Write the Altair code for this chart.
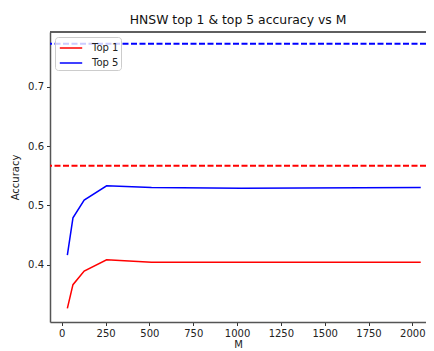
import altair as alt
import pandas as pd

M = [32, 64, 128, 256, 512, 1024, 2048]
top1 = [0.326, 0.366, 0.389, 0.408, 0.404, 0.404, 0.404]
top5 = [0.416, 0.479, 0.509, 0.533, 0.530, 0.529, 0.530]
series = ["Top 1", "Top 5"]
colors = ["#ff0000", "#0000ff"]
ref_values = [0.567, 0.773]
x_ticks = [0, 250, 500, 750, 1000, 1250, 1500, 1750, 2000]
y_ticks = [0.4, 0.5, 0.6, 0.7]

rows = []
for m, a in zip(M, top1):
    rows.append({"M": m, "Accuracy": a, "series": series[0]})
for m, a in zip(M, top5):
    rows.append({"M": m, "Accuracy": a, "series": series[1]})
df = pd.DataFrame(rows)
ref_df = pd.DataFrame({"y": ref_values, "series": series})

FONT = "DejaVu Sans"
W = 376
xscale = alt.Scale(domain=[-67, 2078], nice=False, zero=False)
yscale = alt.Scale(domain=[0.3030, 0.7927], nice=False, zero=False)

lines = alt.Chart(df).mark_line(strokeWidth=1.5, clip=True).encode(
    x=alt.X("M:Q", scale=xscale,
            axis=alt.Axis(values=x_ticks, title="M", grid=False, format="d",
                          tickSize=3.5, labelPadding=3, titlePadding=1,
                          domainColor="#555", domainWidth=1.5, tickColor="#333",
                          labelColor="#222", titleColor="#222",
                          labelFontSize=10, titleFontSize=10,
                          labelFont=FONT, titleFont=FONT, titleFontWeight="normal")),
    y=alt.Y("Accuracy:Q", scale=yscale,
            axis=alt.Axis(values=y_ticks, title="Accuracy", grid=False, format=".1f",
                          tickSize=3.5, labelPadding=3, titlePadding=7,
                          domainColor="#555", domainWidth=1.5, tickColor="#333",
                          labelColor="#222", titleColor="#222",
                          labelFontSize=10, titleFontSize=10,
                          labelFont=FONT, titleFont=FONT, titleFontWeight="normal")),
    color=alt.Color("series:N",
                    scale=alt.Scale(domain=series, range=colors),
                    legend=alt.Legend(title=None, orient="none", legendX=5, legendY=5,
                                      symbolType="M-1.4,0H1.4", symbolSize=256,
                                      symbolStrokeWidth=1.5, symbolOffset=5,
                                      labelFontSize=10,
                                      labelFont=FONT, labelColor="#222",
                                      labelOffset=12, rowPadding=1,
                                      fillColor="rgba(255,255,255,0.8)",
                                      strokeColor="#cccccc", cornerRadius=3,
                                      padding=2)),
)

ref1 = alt.Chart(ref_df).transform_filter(alt.datum.series == series[0]).mark_rule(
    strokeWidth=2, strokeDash=[6, 2.5], color=colors[0]
).encode(y=alt.Y("y:Q", scale=yscale))

ref5 = alt.Chart(ref_df).transform_filter(alt.datum.series == series[1]).mark_rule(
    strokeWidth=2, strokeDash=[6, 2.5], color=colors[1]
).encode(y=alt.Y("y:Q", scale=yscale))

top_spine = alt.Chart(ref_df).mark_rule(color="#555", strokeWidth=1.5).encode(
    x=alt.value(0), x2=alt.value(W), y=alt.value(0)
)

chart = alt.layer(ref1, ref5, lines, top_spine).properties(
    width=W, height=290,
    title=alt.Title("HNSW top 1 & top 5 accuracy vs M", font=FONT, fontSize=12.4,
                    fontWeight="normal", color="#111", offset=5),
    autosize=alt.AutoSizeParams(type="none"),
    padding={"left": 42, "top": 24, "right": 0, "bottom": 29},
).configure_view(stroke=None)

chart.save("out.html", embed_options={"renderer": "svg", "actions": False})
